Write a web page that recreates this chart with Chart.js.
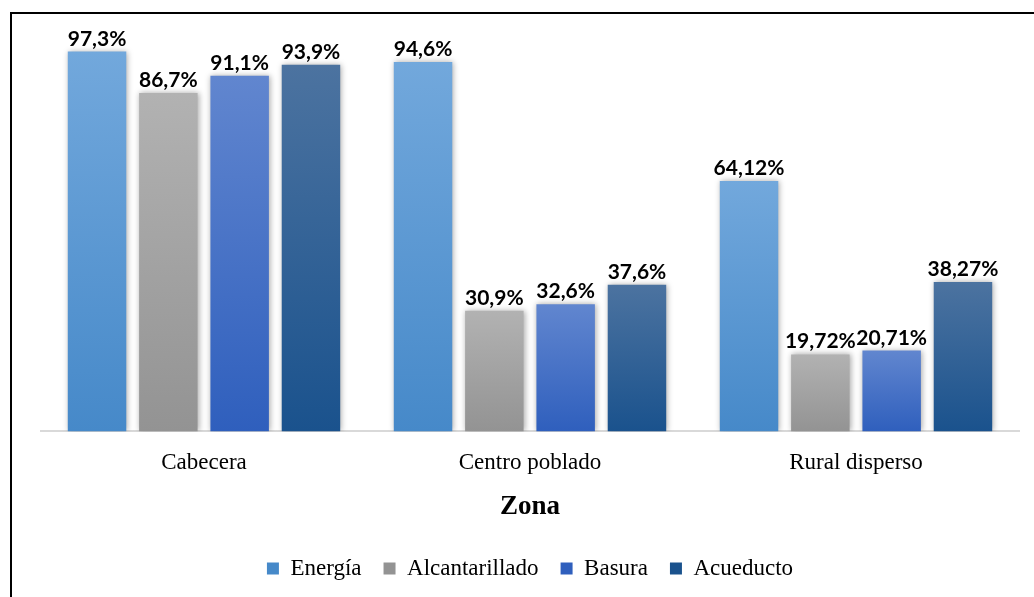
<!DOCTYPE html>
<html>
<head>
<meta charset="utf-8">
<script src="https://cdn.jsdelivr.net/npm/chart.js@4.4.1/dist/chart.umd.min.js"></script>
<style>
  html, body { margin:0; padding:0; background:#fff; }
  #wrap { position:relative; width:1034px; height:597px; overflow:hidden; }
  #frame { position:absolute; left:10px; top:12px; width:1100px; height:700px; border:2px solid #000; box-sizing:border-box; }
  #chart { position:absolute; left:0; top:0; }
</style>
</head>
<body>
<div id="wrap">
  <div id="frame"></div>
  <canvas id="chart" width="1034" height="597"></canvas>
</div>
<script>
// data
const zonas = ["Cabecera", "Centro poblado", "Rural disperso"];
const energia = [97.3, 94.6, 64.12];
const alcantarillado = [86.7, 30.9, 19.72];
const basura = [91.1, 32.6, 20.71];
const acueducto = [93.9, 37.6, 38.27];

// top / bottom colours of each bar gradient
const colores = {
  "Energía":        ["#72a8dc", "#4689c9", "#5b9ad6"],
  "Alcantarillado": ["#b2b2b2", "#939393", "#a5a5a5"],
  "Basura":         ["#6186cf", "#2f5fbd", "#4472c4"],
  "Acueducto":      ["#4c73a0", "#1a528d", "#255e91"]
};

const serif = "'Liberation Serif', 'Times New Roman', serif";

function barGradient(name){
  return function(ctx){
    const c = colores[name];
    const chart = ctx.chart;
    if(ctx.type !== "data" || !chart.chartArea || !chart.scales.y) return c[2];
    const y = chart.scales.y;
    const top = y.getPixelForValue(ctx.parsed ? ctx.parsed.y : ctx.raw);
    const bottom = y.getPixelForValue(0);
    if(!isFinite(top) || !isFinite(bottom) || top === bottom) return c[2];
    const g = chart.ctx.createLinearGradient(0, top, 0, bottom);
    g.addColorStop(0, c[0]);
    g.addColorStop(1, c[1]);
    return g;
  };
}

// shadows + value labels on top of the bars
const barExtras = {
  id: "barExtras",
  beforeDatasetsDraw(chart){
    const ctx = chart.ctx;
    ctx.save();
    ctx.shadowColor = "rgba(0,0,0,0.35)";
    ctx.shadowBlur = 6;
    ctx.shadowOffsetX = 1;
    ctx.shadowOffsetY = 0;
  },
  afterDatasetsDraw(chart){
    const ctx = chart.ctx;
    ctx.restore();
    ctx.save();
    ctx.font = "bold 21px Lato, 'Open Sans', sans-serif";
    ctx.fillStyle = "#000";
    ctx.textAlign = "center";
    ctx.textBaseline = "alphabetic";
    chart.data.datasets.forEach((ds, i) => {
      chart.getDatasetMeta(i).data.forEach((bar, j) => {
        const txt = String(ds.data[j]).replace(".", ",") + "%";
        ctx.fillText(txt, bar.x, bar.y - 6);
      });
    });
    ctx.restore();
  }
};

function serie(label, data){
  return { label: label, data: data, backgroundColor: barGradient(label), borderWidth: 0 };
}

new Chart(document.getElementById("chart"), {
  type: "bar",
  data: {
    labels: zonas,
    datasets: [
      serie("Energía", energia),
      serie("Alcantarillado", alcantarillado),
      serie("Basura", basura),
      serie("Acueducto", acueducto)
    ]
  },
  options: {
    responsive: false,
    animation: false,
    layout: { padding: { left: 41, right: 15, top: 41, bottom: 7 } },
    datasets: { bar: { barPercentage: 0.82, categoryPercentage: 0.875 } },
    plugins: {
      legend: {
        position: "bottom",
        labels: {
          color: "#000",
          font: { family: serif, size: 23 },
          boxWidth: 12, boxHeight: 12, padding: 22
        }
      },
      tooltip: { enabled: false }
    },
    scales: {
      x: {
        grid: { display: false, drawTicks: false },
        border: { display: true, color: "#d9d9d9", width: 2 },
        ticks: {
          color: "#000", padding: 18,
          font: { family: serif, size: 23 }
        },
        title: {
          display: true, text: "Zona", color: "#000",
          font: { family: serif, size: 27, weight: "bold", lineHeight: 0.85 },
          padding: { top: 1, bottom: 16 }
        }
      },
      y: { display: false, min: 0, max: 100 }
    }
  },
  plugins: [barExtras]
});
</script>
</body>
</html>
